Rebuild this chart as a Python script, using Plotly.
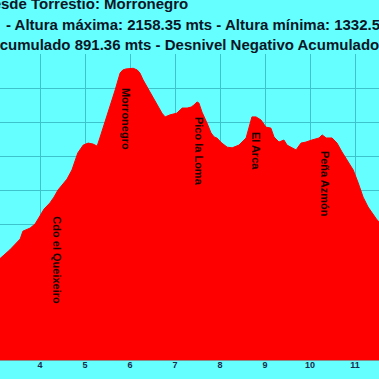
import plotly.graph_objects as go

# Distance along the route (km) and elevation (m)
km = [3.10, 3.33, 3.56, 3.62, 3.78, 3.89, 4.00, 4.09, 4.22, 4.31, 4.40, 4.51, 4.60, 4.71,
      4.78, 4.84, 4.96, 5.07, 5.18, 5.27, 5.33, 5.44, 5.56, 5.67, 5.78, 5.84, 5.91, 6.00,
      6.07, 6.16, 6.22, 6.29, 6.38, 6.49, 6.60, 6.71, 6.78, 6.89, 7.04, 7.16, 7.27, 7.36,
      7.42, 7.49, 7.53, 7.60, 7.71, 7.80, 7.87, 7.93, 8.04, 8.16, 8.27, 8.42, 8.58, 8.64,
      8.71, 8.80, 8.91, 9.02, 9.13, 9.20, 9.31, 9.42, 9.49, 9.60, 9.69, 9.80, 9.91, 10.04,
      10.20, 10.27, 10.36, 10.49, 10.60, 10.71, 10.87, 10.96, 11.07, 11.18, 11.29, 11.38,
      11.49, 11.56]
elev = [1597, 1624, 1656, 1679, 1688, 1700, 1724, 1744, 1762, 1779, 1800, 1818, 1832, 1859,
        1888, 1909, 1932, 1938, 1935, 1929, 1953, 1997, 2044, 2094, 2144, 2153, 2156, 2158.35,
        2158, 2153, 2144, 2124, 2103, 2079, 2050, 2026, 2015, 2021, 2026, 2041, 2041, 2044,
        2050, 2059, 2056, 2029, 1997, 1968, 1956, 1953, 1938, 1926, 1924, 1932, 1953, 1985,
        2015, 2015, 2006, 1985, 1982, 1956, 1941, 1947, 1932, 1924, 1918, 1938, 1941, 1947,
        1953, 1962, 1953, 1953, 1938, 1912, 1879, 1859, 1821, 1779, 1750, 1732, 1712, 1703]

# Waypoint labels
wp_names = ["Cdo el Queixeiro", "Morronegro", "Pico la Loma", "El Arca", "Peña Azmón"]
wp_km = [4.378, 5.911, 7.533, 8.80, 10.333]
wp_label_elev = [1593, 2009, 1915, 1915, 1818]

# Title lines
title_1 = "Ruta desde Torrestío: Morronegro"
title_2 = "- Altura máxima: 2158.35 mts - Altura mínima: 1332.5 mts"
title_3 = "Desnivel Positivo Acumulado 891.36 mts - Desnivel Negativo Acumulado"

x_ticks = [4, 5, 6, 7, 8, 9, 10, 11]

W = H = 379
ML, MR, MT, MB = 0, 0, 54, 19
PH = H - MT - MB

def px_x(p):
    return p / W

def px_y(p):
    return (H - MB - p) / PH

BG = "#66FFFF"
GRID = "#3cc3cc"
FONT = "Liberation Sans, Arial, sans-serif"

fig = go.Figure()
fig.add_trace(go.Scatter(
    x=km, y=elev, mode="lines", fill="tozeroy",
    line=dict(color="#FF0000", width=1), fillcolor="#FF0000",
    hoverinfo="skip", showlegend=False,
))

annotations = []
for t, x, anchor, yp in [(title_1, 190, "right", 3.8), (title_2, 4, "left", 24.3),
                         (title_3, 381, "right", 44.8)]:
    annotations.append(dict(
        text=t, xref="paper", yref="paper", x=px_x(x), y=px_y(yp),
        xanchor=anchor, yanchor="middle", showarrow=False,
        font=dict(family=FONT, size=15, color="#0d1626", weight="bold"),
    ))
for n, xk, ye in zip(wp_names, wp_km, wp_label_elev):
    annotations.append(dict(
        text=n, x=xk, y=ye, xref="x", yref="y", textangle=90,
        xanchor="center", yanchor="middle", showarrow=False,
        font=dict(family=FONT, size=11, color="#1a0000", weight="bold"),
    ))

fig.update_layout(
    width=W, height=H,
    margin=dict(l=ML, r=MR, t=MT, b=MB, pad=0),
    paper_bgcolor=BG, plot_bgcolor=BG,
    showlegend=False,
    annotations=annotations,
    xaxis=dict(
        range=[3.111, 11.533], tickvals=x_ticks, ticktext=[str(v) for v in x_ticks],
        showgrid=True, gridcolor=GRID, gridwidth=1,
        showline=True, linecolor="#8a8a8a", linewidth=1, ticks="",
        ticklabelstandoff=-4,
        tickfont=dict(family=FONT, size=9, color="#1a2b4c", weight="bold"),
        zeroline=False, fixedrange=True,
    ),
    yaxis=dict(
        range=[1300, 2200], dtick=100, showticklabels=False,
        showgrid=True, gridcolor=GRID, gridwidth=1, zeroline=False,
        ticks="", fixedrange=True,
    ),
)

fig.write_html("out.html", config={"displayModeBar": False},
               post_script="document.body.style.margin='0';document.body.style.overflow='hidden';")
